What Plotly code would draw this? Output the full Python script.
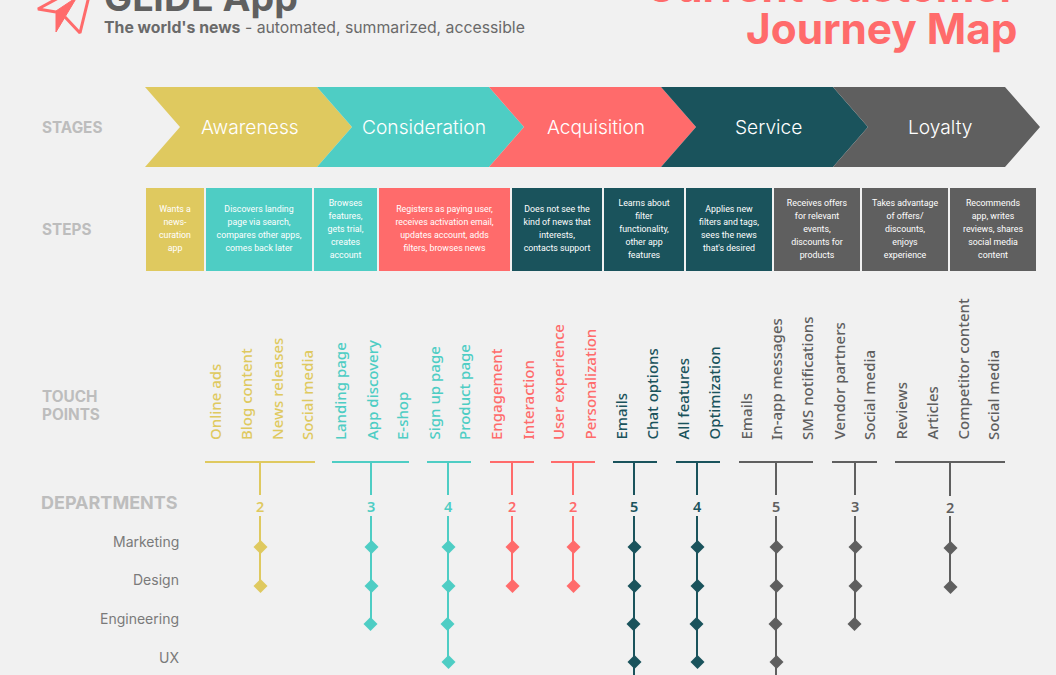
import plotly.graph_objects as go

# Text and values
stages = ["Awareness", "Consideration", "Acquisition", "Service", "Loyalty"]
steps = [
    ["Wants a", "news-", "curation", "app"],
    ["Discovers landing", "page via search,", "compares other apps,", "comes back later"],
    ["Browses", "features,", "gets trial,", "creates", "account"],
    ["Registers as paying user,", "receives activation email,", "updates account, adds", "filters, browses news"],
    ["Does not see the", "kind of news that", "interests,", "contacts support"],
    ["Learns about", "filter", "functionality,", "other app", "features"],
    ["Applies new", "filters and tags,", "sees the news", "that's desired"],
    ["Receives offers", "for relevant", "events,", "discounts for", "products"],
    ["Takes advantage", "of offers/", "discounts,", "enjoys", "experience"],
    ["Recommends", "app, writes", "reviews, shares", "social media", "content"],
]
touch_points = [
    ["Online ads", "Blog content", "News releases", "Social media"],
    ["Landing page", "App discovery", "E-shop"],
    ["Sign up page", "Product page"],
    ["Engagement", "Interaction"],
    ["User experience", "Personalization"],
    ["Emails", "Chat options"],
    ["All features", "Optimization"],
    ["Emails", "In-app messages", "SMS notifications"],
    ["Vendor partners", "Social media"],
    ["Reviews", "Articles", "Competitor content", "Social media"],
]
dept_counts = [2, 3, 4, 2, 2, 5, 4, 5, 3, 2]
departments = ["Marketing", "Design", "Engineering", "UX"]

# Colours
YELLOW, TEAL, RED, DARK, GREY = "#DFC95F", "#4ECDC4", "#FF6B6B", "#1A535C", "#5F5F5F"
stage_colors = [YELLOW, TEAL, RED, DARK, GREY]
step_colors = [YELLOW, TEAL, TEAL, RED, DARK, DARK, DARK, GREY, GREY, GREY]
group_colors = [YELLOW, TEAL, TEAL, RED, RED, DARK, DARK, GREY, GREY, GREY]
LABEL = "#BDBDBD"
BG = "#F1F1F1"

# Layout, in page pixels
stage_edges = [145, 317, 489, 661, 833, 1005]
stage_label_x = [250, 424, 596, 768, 940]
step_left = [146, 206, 314, 379, 512, 604, 686, 774, 862, 950]
step_right = [204, 312, 377, 510, 602, 684, 772, 860, 948, 1036]
touch_x = [
    [215, 246, 277, 307], [340, 372, 402], [433, 464], [496, 527], [558, 589],
    [620, 651], [682, 713], [745, 776, 807], [838, 869], [900, 931, 962, 993],
]
bracket_left = [205, 332, 427, 490, 551, 613, 676, 739, 832, 895]
bracket_right = [315, 409, 471, 534, 595, 657, 720, 813, 877, 1005]
stem_x = [260, 371, 448, 512, 573, 634, 697, 776, 855, 950]
row_y = [547, 586, 624, 662, 700]
row_nudge = [0.5, 0.5, -0.5, 0.5, 0.5]
dept_label_y = [541, 579.5, 618.5, 657.5]

HEAD = "Inter"
fig = go.Figure()


def label(x, y, text, size, color, family=HEAD, anchor="center", angle=0, yanchor="middle", weight=400, yshift=0):
    fig.add_annotation(x=x, y=y, text=text, showarrow=False, xanchor=anchor, yanchor=yanchor,
                       textangle=angle, borderpad=0, borderwidth=0, yshift=yshift,
                       font=dict(size=size, color=color, family=family, weight=weight))


# Stage chevrons
for i, name in enumerate(stages):
    l, r = stage_edges[i], stage_edges[i + 1]
    fig.add_trace(go.Scatter(x=[l, r, r + 35, r, l, l + 35, l], y=[87, 87, 127, 167, 167, 127, 87],
                             mode="lines", fill="toself", fillcolor=stage_colors[i],
                             line=dict(width=0), hoverinfo="skip"))
    label(stage_label_x[i], 127, name, 19.2, "white", weight=300)

# Step boxes and their text, one point per line to hold the line pitch
for i, lines in enumerate(steps):
    fig.add_shape(type="rect", x0=step_left[i], x1=step_right[i], y0=188, y1=271,
                  fillcolor=step_colors[i], line_width=0, layer="below")
    mid = (step_left[i] + step_right[i]) / 2
    fig.add_trace(go.Scatter(x=[mid] * len(lines),
                             y=[229.5 + 13 * (j - (len(lines) - 1) / 2) for j in range(len(lines))],
                             text=lines, mode="text", textposition="middle center",
                             textfont=dict(size=8.8, color="white", family="Roboto"), hoverinfo="skip"))

# Touch points, brackets, stems and department diamonds
for g, labels in enumerate(touch_points):
    color = group_colors[g]
    for x, text in zip(touch_x[g], labels):
        label(x, 440, text, 15, color, family="Noto Sans", angle=-90, yanchor="bottom", weight=500)

    shift = 1 if g == 9 else 0
    last_y = row_y[dept_counts[g] - 1] + shift
    fig.add_trace(go.Scatter(
        x=[bracket_left[g], bracket_right[g], None, stem_x[g], stem_x[g], None, stem_x[g], stem_x[g]],
        y=[462, 462, None, 462, 495 + shift, None, 516, last_y],
        mode="lines", line=dict(color=color, width=2), hoverinfo="skip"))
    fig.add_trace(go.Scatter(
        x=[stem_x[g] + row_nudge[r] for r in range(dept_counts[g])],
        y=[row_y[r] + shift for r in range(dept_counts[g])],
        mode="markers", marker=dict(symbol="diamond", size=10.8, color=color), hoverinfo="skip"))
    label(stem_x[g], 506 + shift, str(dept_counts[g]), 14.5, color, family="Noto Sans", weight=600)

# Row labels on the left
label(42, 127, "<b>STAGES</b>", 15.3, LABEL, anchor="left")
label(42, 229, "<b>STEPS</b>", 15.3, LABEL, anchor="left")
label(42, 396, "<b>TOUCH</b>", 15.3, LABEL, anchor="left")
label(42, 414, "<b>POINTS</b>", 15.3, LABEL, anchor="left")
label(41, 502, "<b>DEPARTMENTS</b>", 18, LABEL, anchor="left")
for name, y in zip(departments, dept_label_y):
    label(179, y, name, 14, "#7A7A7A", anchor="right")

# Header, cut off by the top of the page
label(104, 0, "<b>GLIDE App</b>", 37.5, "#606060", anchor="left", yshift=3)
label(104, 27, "<b>The world's news</b> - automated, summarized, accessible", 15.8, "#6A6A6A", anchor="left")
label(1017, 0, "<b>Current Customer</b>", 42.3, RED, anchor="right", yshift=14)
label(1017, 28, "<b>Journey Map</b>", 42.3, RED, anchor="right")

# Paper plane logo
fig.add_trace(go.Scatter(x=[56, 77, 65, 56, 56], y=[11, -3, 17, 32, 11], mode="lines", fill="toself",
                         fillcolor=RED, line=dict(color=RED, width=1), hoverinfo="skip"))
fig.add_trace(go.Scatter(x=[62, 38, 56, None, 89, 80, 65], y=[-4, 9, 12, None, -4, 33, 17], mode="lines",
                         line=dict(color=RED, width=3), hoverinfo="skip"))

fig.update_layout(
    width=1056, height=675, margin=dict(l=0, r=0, t=0, b=0),
    paper_bgcolor=BG, plot_bgcolor=BG, showlegend=False,
    xaxis=dict(range=[0, 1056], visible=False, fixedrange=True),
    yaxis=dict(range=[675, 0], visible=False, fixedrange=True),
)

fig.write_html("out.html", post_script="document.body.style.margin='0';", config={"displayModeBar": False})
